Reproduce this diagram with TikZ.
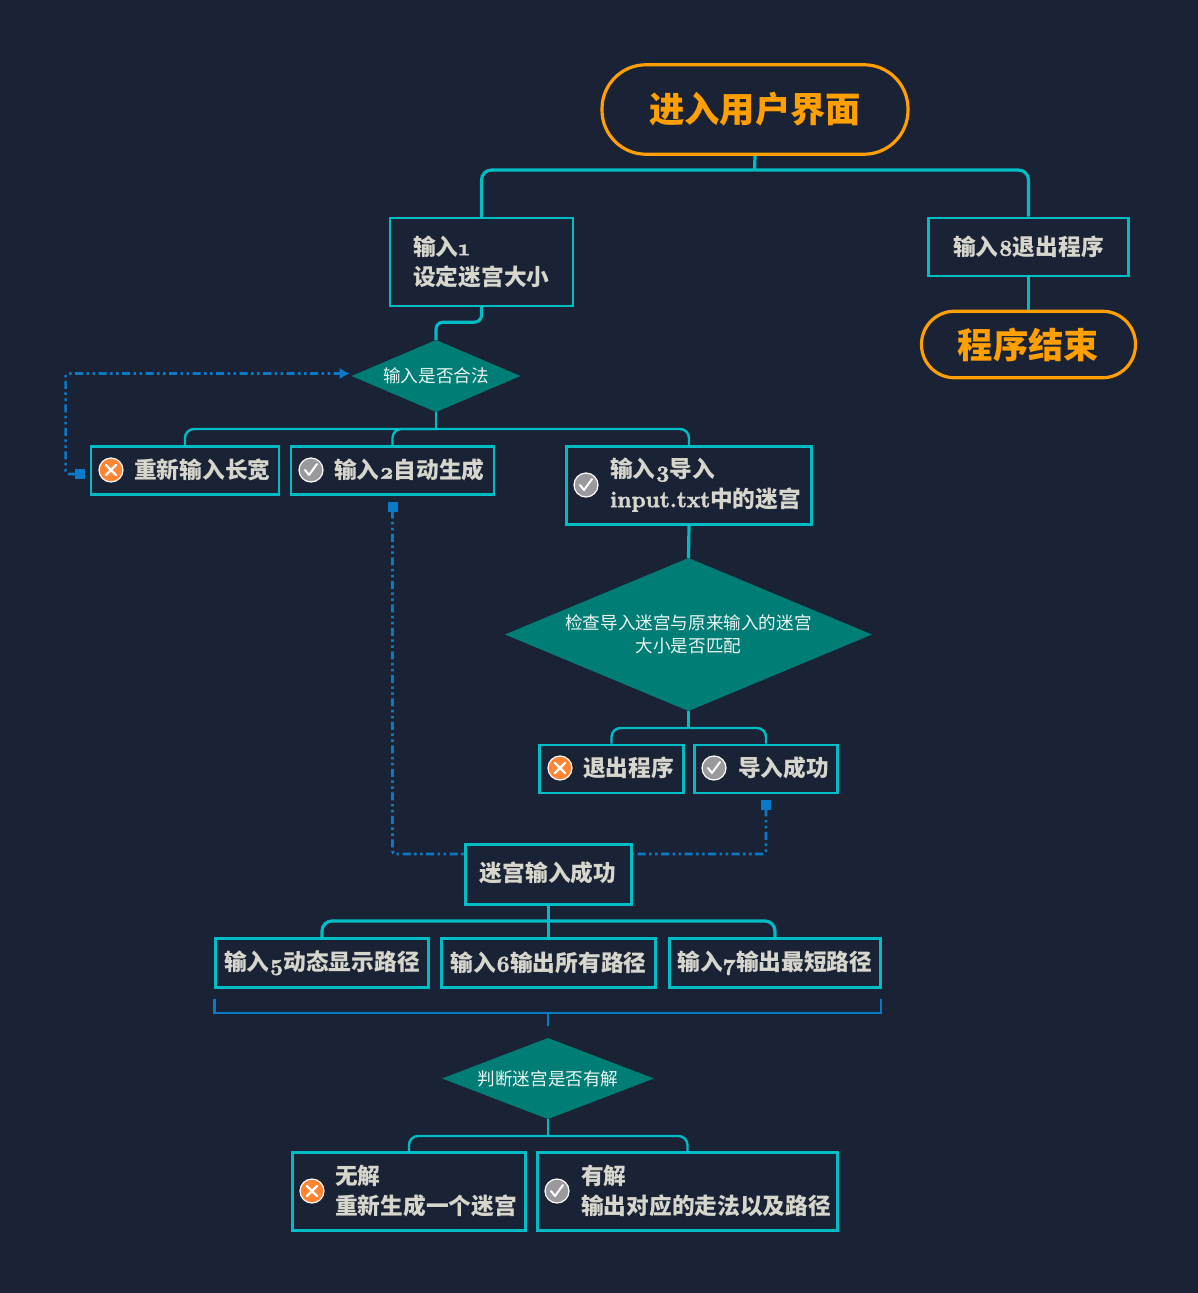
\documentclass[tikz,border=0pt]{standalone}
\usepackage{fontspec}
\setmainfont{Noto Sans CJK SC}
\newfontfamily\oldfig[Numbers=OldStyle,FakeBold=2.5]{Latin Modern Roman}
\newcommand{\latin}[1]{{\oldfig #1}}
\usepackage{xcolor}
\usepackage{tikz}
\usetikzlibrary{arrows.meta,positioning,shapes.geometric}
\definecolor{bgdark}{HTML}{1A2236}
\definecolor{cyanline}{HTML}{00BCC4}
\definecolor{flowblue}{HTML}{0A7AC6}
\definecolor{tealfill}{HTML}{007D74}
\definecolor{titleorange}{HTML}{FF9F00}
\definecolor{labelgrey}{HTML}{D6D6CC}
\definecolor{iconorange}{HTML}{FF8533}
\definecolor{icongrey}{HTML}{9A9A9E}

\begin{document}
\begin{tikzpicture}[
            x=1pt, y=-1pt,
            box/.style={draw=cyanline, line width=2.3pt, fill=bgdark, inner sep=0pt, align=left,
                 text=labelgrey, font=\fontsize{22.7}{30}\selectfont\bfseries},
            boxtext/.style={inner sep=0pt, anchor=west, align=left,
                 text=labelgrey, font=\fontsize{22.7}{30}\selectfont\bfseries},
            terminal/.style={draw=titleorange, line width=3.2pt, inner sep=0pt, text=titleorange,
                 font=\fontsize{35.3}{40}\selectfont\bfseries},
            check/.style={diamond, fill=tealfill, inner sep=0pt, outer sep=0pt, align=center,
                 text=white!92!tealfill, font=\fontsize{17.6}{23}\selectfont},
            failicon/.style={circle, draw=white, line width=1.2pt, fill=iconorange, minimum size=24pt,
                 inner sep=0pt, path picture={
                 \draw[white, line width=2.2pt, line cap=round]
                   ([shift={(-5pt,-5pt)}]path picture bounding box.center) -- ([shift={(5pt,5pt)}]path picture bounding box.center)
                   ([shift={(-5pt,5pt)}]path picture bounding box.center) -- ([shift={(5pt,-5pt)}]path picture bounding box.center);}},
            passicon/.style={circle, draw=white, line width=1.2pt, fill=icongrey, minimum size=24pt,
                 inner sep=0pt, path picture={
                 \draw[white, line width=2pt, line cap=round, line join=round]
                   ([shift={(-6pt,0pt)}]path picture bounding box.center) -- ([shift={(-2pt,-5pt)}]path picture bounding box.center)
                   -- ([shift={(6pt,6pt)}]path picture bounding box.center);}},
            thick link/.style={draw=cyanline, line width=3.2pt},
            link/.style={draw=cyanline, line width=2.4pt},
            flow/.style={draw=flowblue, line width=2.7pt, dash pattern=on 8pt off 3.5pt on 2.5pt off 3.5pt on 2.5pt off 3.5pt, rounded corners=3pt},
            bracket/.style={draw=flowblue, line width=2.3pt}
            ]

            \path[use as bounding box, fill=bgdark] (0,0) rectangle (1198,1293);

            % Top nodes
            \node[terminal, minimum width=306pt, minimum height=89.5pt, rounded corners=44pt] (root) at (755,109.5) {\raisebox{1.5pt}{进入用户界面}};
            \node[box, minimum width=183.5pt, minimum height=88pt] (setsize) at (481.5,262) {};
            \node[boxtext] (setsizetxt) at (413,261.5) {输入\latin{1}\\设定迷宫大小};
            \node[box, minimum width=200pt, minimum height=58.5pt] (quit) at (1028.5,247) {输入\latin{8}退出程序};
            \node[terminal, minimum width=214pt, minimum height=66.5pt, rounded corners=33pt] (finish) at (1028.5,344.5) {程序结束};
            \node[check, shape aspect=2.35, minimum width=169pt, minimum height=72pt] (legal) at (436,376) {输入是否合法};

            % Second row
            \node[box, minimum width=188.5pt, minimum height=48pt] (retry) at (185,470.5) {};
            \node[failicon] (retryicon) at (111,470) {};
            \node[boxtext] (retrytxt) at (134,470) {重新输入长宽};
            \node[box, minimum width=203pt, minimum height=48pt] (auto) at (392.5,470.5) {};
            \node[passicon] (autoicon) at (311,470) {};
            \node[boxtext] (autotxt) at (334,470) {输入\latin{2}自动生成};
            \node[box, minimum width=245pt, minimum height=78pt] (load) at (689,485.5) {};
            \node[passicon] (loadicon) at (586,485) {};
            \node[boxtext] (loadtxt) at (610,484.5) {输入\latin{3}导入\\\latin{input.txt}中的迷宫};

            \node[check, shape aspect=2.4, minimum width=367pt, minimum height=153pt] (match) at (688.5,634.5) {检查导入迷宫与原来输入的迷宫\\大小是否匹配};

            \node[box, minimum width=144pt, minimum height=48.5pt] (abort) at (611.5,769) {};
            \node[failicon] (aborticon) at (560,768) {};
            \node[boxtext] (aborttxt) at (583,768) {退出程序};
            \node[box, minimum width=143pt, minimum height=48.5pt] (loaded) at (766,769) {};
            \node[passicon] (loadedicon) at (714,768) {};
            \node[boxtext] (loadedtxt) at (738,768) {导入成功};

            % Dashed returns go under the success box
            \coordinate (flowjoin) at (548,854);
            \draw[flow, {Square[length=10pt,width=10pt]}-{Square[length=10pt,width=10pt]}, shorten <=6pt, shorten >=6pt] (auto.south) |- (flowjoin) -| (loaded.south);

            \node[box, minimum width=166pt, minimum height=60pt] (success) at (548.5,874.5) {};
            \node[inner sep=0pt, text=labelgrey, font=\fontsize{22.7}{30}\selectfont\bfseries] (successtxt) at (548,873) {迷宫输入成功};

            \node[box, minimum width=213pt, minimum height=49pt] (showpath) at (322,963) {输入\latin{5}动态显示路径};
            \node[box, minimum width=214pt, minimum height=49pt] (allpath) at (548.5,963) {输入\latin{6}输出所有路径};
            \node[box, minimum width=211pt, minimum height=49pt] (shortpath) at (775,963) {输入\latin{7}输出最短路径};

            \coordinate (bracel) at (214.5,999);
            \coordinate (bracer) at (881,999);
            \coordinate (bracemid) at (548,1013);
            \coordinate (bracetail) at (548,1026);

            \node[check, shape aspect=2.62, minimum width=212pt, minimum height=81pt] (solvable) at (548,1078.5) {判断迷宫是否有解};

            \node[box, minimum width=233pt, minimum height=78pt] (nosol) at (409,1191.5) {};
            \node[failicon] (nosolicon) at (312,1191) {};
            \node[boxtext] (nosoltxt) at (335,1191) {无解\\重新生成一个迷宫};
            \node[box, minimum width=300pt, minimum height=78pt] (hassol) at (687.5,1191.5) {};
            \node[passicon] (hassolicon) at (557,1191) {};
            \node[boxtext] (hassoltxt) at (581,1191) {有解\\输出对应的走法以及路径};

            % Bus points
            \coordinate (rootbus) at (754.5,170);
            \coordinate (legalbus) at (436,429);
            \coordinate (matchbus) at (688.5,728);
            \coordinate (successbus) at (548.5,921);
            \coordinate (solvablebus) at (548,1136);

            % Arrows
            \draw[flow, {Square[length=10pt,width=10pt]}-{Latex[length=10pt,width=12pt]}, shorten <=5pt, shorten >=2pt]
                ([yshift=-3.5pt]retry.west) -- ++(-24,0) |- ([yshift=2.5pt]legal.west);

            \draw[thick link] (root.south) -- (rootbus);
            \draw[thick link, rounded corners=10pt] (rootbus) -| (setsize.north);
            \draw[thick link, rounded corners=10pt] (rootbus) -| (quit.north);
            \draw[thick link] (quit.south) -- (finish.north);
            \draw[thick link, rounded corners=7pt] (setsize.south) -- ++(0,15) -| (legal.north);

            \draw[link] (legal.south) -- (legalbus);
            \draw[link, rounded corners=9pt] (legalbus) -| (retry.north);
            \draw[link, rounded corners=9pt] (legalbus) -| (auto.north);
            \draw[link, rounded corners=9pt] (legalbus) -| (load.north);
            \draw[thick link] (load.south) -- (match.north);

            \draw[link] (match.south) -- (matchbus);
            \draw[link, rounded corners=9pt] (matchbus) -| (abort.north);
            \draw[link, rounded corners=9pt] (matchbus) -| (loaded.north);

            \draw[thick link] (success.south) -- (allpath.north);
            \draw[thick link, rounded corners=10pt] (successbus) -| (showpath.north);
            \draw[thick link, rounded corners=10pt] (successbus) -| (shortpath.north);

            \draw[bracket] (bracel) |- (bracemid) -| (bracer);
            \draw[bracket] (bracemid) -- (bracetail);

            \draw[link] (solvable.south) -- (solvablebus);
            \draw[link, rounded corners=9pt] (solvablebus) -| (nosol.north);
            \draw[link, rounded corners=9pt] (solvablebus) -| (hassol.north);
        \end{tikzpicture}
\end{document}
